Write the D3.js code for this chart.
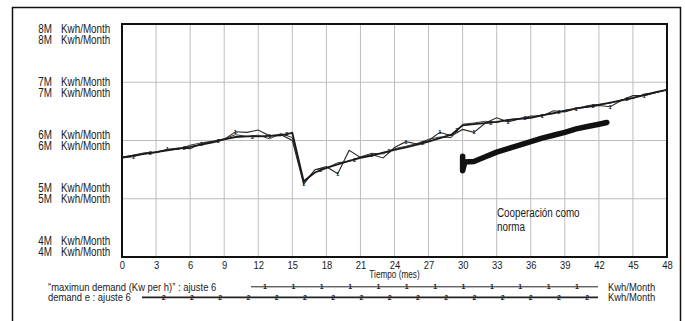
<!DOCTYPE html>
<html>
<head>
<meta charset="utf-8">
<script src="https://cdn.jsdelivr.net/npm/d3@7"></script>
<style>
  html, body { margin: 0; padding: 0; background: #fff; }
  svg text { font-family: "Liberation Sans", Arial, sans-serif; fill: #1a1a1a; }
</style>
</head>
<body>
<svg id="chart" width="685" height="321"></svg>
<script>
// ---------------- DATA ----------------
const xTicks = [0, 3, 6, 9, 12, 15, 18, 21, 24, 27, 30, 33, 36, 39, 42, 45, 48];
const yTickValues = [8, 7, 6, 5, 4];
const yTickLabels = ["8M", "7M", "6M", "5M", "4M"];
const unitLabel = "Kwh/Month";
const xTitle = "Tiempo (mes)";
const series1Name = "\u201cmaximun demand (Kw per h)\u201d : ajuste 6";
const series2Name = "demand e : ajuste 6";
const annotation = ["Cooperación como", "norma"];

const months = d3.range(0, 49);
// "maximun demand" (noisy, marker 1), millions Kwh/Month
const series1 = [5.70,5.72,5.78,5.80,5.85,5.87,5.86,5.95,5.98,6.02,6.15,6.14,6.18,6.08,6.10,6.00,5.25,5.50,5.55,5.43,5.83,5.71,5.76,5.70,5.88,5.98,5.94,6.00,6.14,6.08,6.19,6.14,6.30,6.39,6.32,6.37,6.42,6.42,6.51,6.49,6.55,6.57,6.60,6.58,6.69,6.77,6.77,6.82,6.87];
// "demand e" (smooth, marker 2)
const series2 = [5.71,5.74,5.77,5.80,5.83,5.86,5.89,5.93,5.97,6.02,6.06,6.07,6.07,6.08,6.09,6.13,5.30,5.45,5.53,5.59,5.65,5.70,5.74,5.79,5.84,5.88,5.93,5.98,6.04,6.10,6.26,6.28,6.30,6.32,6.35,6.37,6.39,6.43,6.47,6.51,6.55,6.58,6.61,6.65,6.69,6.73,6.78,6.83,6.87];
// additional thin data run
const series3 = [5.71,5.75,5.79,5.79,5.84,5.85,5.92,5.96,5.99,6.03,6.10,6.07,6.09,6.03,6.12,6.05,5.28,5.50,5.52,5.62,5.64,5.72,5.78,5.77,5.86,5.90,5.95,6.02,6.06,6.05,6.28,6.30,6.33,6.31,6.36,6.38,6.40,6.44,6.46,6.52,6.54,6.60,6.62,6.64,6.70,6.72,6.80,6.82,6.87];
// "Cooperación como norma" run
const coopMonths = [30, 30, 30.2, 31, 32, 33, 34, 35, 36, 37, 38, 39, 40, 41, 42, 42.7];
const coopValues = [5.73, 5.48, 5.63, 5.64, 5.72, 5.80, 5.86, 5.92, 5.98, 6.04, 6.09, 6.14, 6.20, 6.24, 6.28, 6.31];

const marker1Months = [1, 4, 7, 10, 13, 16, 19, 22, 25, 28, 31, 34, 37, 40, 43, 46];
const marker2Months = [2.5, 5.5, 8.5, 11.5, 14.5, 17.5, 20.5, 23.5, 26.5, 29.5, 32.5, 35.5, 38.5, 41.5, 44.5];

// ---------------- LAYOUT ----------------
const svg = d3.select("#chart");
const L = 122, R = 667, T = 24, B = 257;
const NARROW = 0.82;

// condense text horizontally (narrow typeface look)
function narrow(sel) {
  sel.each(function () {
    const w = this.getComputedTextLength();
    if (w > 0) d3.select(this).attr("textLength", w * NARROW).attr("lengthAdjust", "spacingAndGlyphs");
  });
  return sel;
}

const x = d3.scaleLinear().domain([0, 48]).range([L, R]);
const y = d3.scaleLinear().domain([4, 8]).range([B, T]);
const yLab = d3.scaleLinear().domain([4, 8]).range([246.2, 34.5]);

// outer frame
svg.append("path")
  .attr("d", "M12.5,321 V7.5 H680.5 V321")
  .attr("fill", "none").attr("stroke", "#111").attr("stroke-width", 1.5);

// grid
const grid = svg.append("g").attr("stroke", "#bdbdbd").attr("stroke-width", 1);
grid.selectAll("line.v").data(xTicks.slice(1, -1)).join("line")
  .attr("x1", d => x(d)).attr("x2", d => x(d)).attr("y1", T).attr("y2", B);
grid.selectAll("line.h").data([5, 6, 7]).join("line")
  .attr("x1", L).attr("x2", R).attr("y1", d => y(d)).attr("y2", d => y(d));

// x axis labels via d3 axis
const xAxis = d3.axisBottom(x).tickValues(xTicks).tickSize(0).tickPadding(3).tickFormat(d3.format("d"));
const gx = svg.append("g").attr("transform", `translate(0,${B})`).call(xAxis);
gx.attr("font-family", null).attr("font-size", null);
gx.select(".domain").remove();
gx.selectAll("text").attr("font-size", 11.5).attr("fill", "#1a1a1a").attr("dy", "0.8em");
narrow(gx.selectAll("text"));

narrow(svg.append("text").attr("x", x(24)).attr("y", 277.5).attr("text-anchor", "middle")
  .attr("font-size", 10).text(xTitle));

// y labels (double rows)
const yl = svg.append("g");
yTickValues.forEach((v, i) => {
  [-5.6, 5.6].forEach(off => {
    const cy = yLab(v) + off;
    narrow(yl.append("text").attr("x", 52).attr("y", cy).attr("dy", "0.36em")
      .attr("text-anchor", "end").attr("font-size", 12).text(yTickLabels[i]));
    narrow(yl.append("text").attr("x", 61).attr("y", cy).attr("dy", "0.36em")
      .attr("font-size", 12).text(unitLabel));
  });
});

// lines
const line = d3.line().x(d => x(d[0])).y(d => y(d[1]));
const plot = svg.append("g");
plot.append("path").datum(months.map((m, i) => [m, series3[i]]))
  .attr("d", line).attr("fill", "none").attr("stroke", "#3a3a3a").attr("stroke-width", 1);
plot.append("path").datum(months.map((m, i) => [m, series1[i]]))
  .attr("d", line).attr("fill", "none").attr("stroke", "#2a2a2a").attr("stroke-width", 1.1);
plot.append("path").datum(months.map((m, i) => [m, series2[i]]))
  .attr("d", line).attr("fill", "none").attr("stroke", "#1a1a1a").attr("stroke-width", 1.8);

const interp = (arr, m) => {
  const i = Math.floor(m), f = m - i;
  return i >= 48 ? arr[48] : arr[i] * (1 - f) + arr[i + 1] * f;
};
plot.selectAll("text.m1").data(marker1Months).join("text")
  .attr("x", d => x(d)).attr("y", d => y(interp(series1, d))).attr("dy", "0.35em")
  .attr("text-anchor", "middle").attr("font-size", 6).attr("font-weight", "bold").text("1");
plot.selectAll("text.m2").data(marker2Months).join("text")
  .attr("x", d => x(d)).attr("y", d => y(interp(series2, d))).attr("dy", "0.35em")
  .attr("text-anchor", "middle").attr("font-size", 6).attr("font-weight", "bold").text("2");

// cooperation thick line
plot.append("path").datum(coopMonths.map((m, i) => [m, coopValues[i]]))
  .attr("d", line).attr("fill", "none").attr("stroke", "#111")
  .attr("stroke-width", 5.5).attr("stroke-linecap", "round").attr("stroke-linejoin", "round");

// annotation
narrow(svg.append("text").attr("x", 497).attr("y", 212.7).attr("dy", "0.36em").attr("font-size", 12).text(annotation[0]));
narrow(svg.append("text").attr("x", 497).attr("y", 226.3).attr("dy", "0.36em").attr("font-size", 12).text(annotation[1]));

// plot frame
svg.append("rect").attr("x", L).attr("y", T).attr("width", R - L).attr("height", B - T)
  .attr("fill", "none").attr("stroke", "#111").attr("stroke-width", 2);

// legend
const lg = svg.append("g");
const legendRows = [
  { name: series1Name, y: 286.8, x1: 251, mark: "1", start: 265, step: 28.36, n: 12, w: 1 },
  { name: series2Name, y: 297.3, x1: 142, mark: "2", start: 163.7, step: 28.24, n: 16, w: 1.8 }
];
legendRows.forEach(r => {
  narrow(lg.append("text").attr("x", 48).attr("y", r.y).attr("dy", "0.36em").attr("font-size", 11.5).text(r.name));
  lg.append("line").attr("x1", r.x1).attr("x2", 598).attr("y1", r.y).attr("y2", r.y)
    .attr("stroke", "#222").attr("stroke-width", r.w);
  lg.selectAll(null).data(d3.range(r.n)).join("text")
    .attr("x", i => r.start + i * r.step).attr("y", r.y).attr("dy", "0.35em")
    .attr("text-anchor", "middle").attr("font-size", 7).attr("font-weight", "bold").text(r.mark);
  narrow(lg.append("text").attr("x", 608).attr("y", r.y).attr("dy", "0.36em").attr("font-size", 11.5).text(unitLabel));
});
</script>
</body>
</html>
